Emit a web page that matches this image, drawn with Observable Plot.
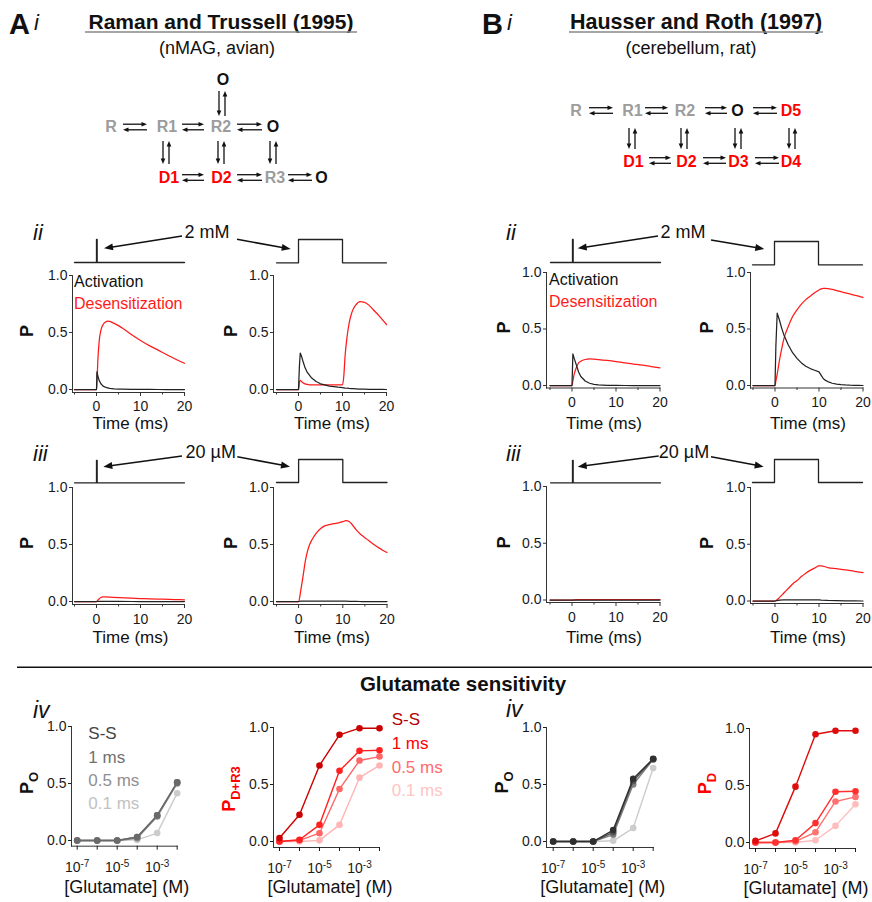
<!DOCTYPE html>
<html>
<head>
<meta charset="utf-8">
<script src="https://cdn.jsdelivr.net/npm/d3@7"></script>
<script src="https://cdn.jsdelivr.net/npm/@observablehq/plot@0.6"></script>
<style>
  body { margin: 0; background: #fff; }
  #fig { position: relative; width: 872px; height: 902px; overflow: hidden; background: #fff;
         font-family: "Liberation Sans", Arial, Helvetica, sans-serif; }
</style>
</head>
<body>
<div id="fig"></div>
<script>
const FONT = '"Liberation Sans", Arial, Helvetica, sans-serif';

// ---------------- DATA: time courses (ms, open / desensitized probability) ----------------
// A ii left : 2 mM brief pulse, Raman & Trussell
const tAiiL   = [-5, 0, 0.1, 0.3, 0.6, 1, 1.5, 2, 2.5, 3, 4, 5, 6, 8, 10, 12, 14, 16, 18, 20];
const actAiiL = [0, 0, 0.155, 0.12, 0.08, 0.05, 0.03, 0.02, 0.015, 0.01, 0.006, 0.004, 0.003, 0.002, 0.001, 0.001, 0, 0, 0, 0];
const desAiiL = [0, 0, 0.05, 0.25, 0.42, 0.52, 0.57, 0.59, 0.60, 0.597, 0.58, 0.56, 0.535, 0.48, 0.43, 0.385, 0.345, 0.305, 0.265, 0.23];
// A ii right : 2 mM 10 ms pulse
const tAiiR   = [-5, 0, 0.2, 0.4, 0.7, 1, 1.5, 2, 3, 4, 5, 6, 7, 8, 9, 10, 10.3, 10.6, 11, 11.5, 12, 12.5, 13, 14, 15, 16, 17, 18, 19, 20];
const actAiiR = [0, 0, 0.2, 0.32, 0.29, 0.25, 0.19, 0.15, 0.10, 0.07, 0.05, 0.04, 0.03, 0.025, 0.02, 0.017, 0.015, 0.013, 0.011, 0.009, 0.008, 0.007, 0.006, 0.004, 0.003, 0.002, 0.002, 0.001, 0.001, 0];
const desAiiR = [0, 0, 0.06, 0.08, 0.07, 0.06, 0.05, 0.045, 0.04, 0.04, 0.04, 0.04, 0.04, 0.04, 0.04, 0.04, 0.12, 0.30, 0.45, 0.58, 0.66, 0.71, 0.74, 0.77, 0.765, 0.74, 0.70, 0.66, 0.615, 0.57];
// B ii left : Hausser & Roth, 2 mM brief pulse
const tBiiL   = [-5, 0, 0.2, 0.5, 1, 1.5, 2, 3, 4, 5, 6, 8, 10, 12, 14, 16, 18, 20];
const actBiiL = [0, 0, 0.28, 0.24, 0.18, 0.12, 0.08, 0.04, 0.02, 0.01, 0.005, 0.002, 0.001, 0, 0, 0, 0, 0];
const desBiiL = [0, 0, 0.04, 0.10, 0.16, 0.20, 0.215, 0.23, 0.235, 0.233, 0.23, 0.222, 0.212, 0.20, 0.19, 0.18, 0.168, 0.157];
// B ii right : 2 mM 10 ms pulse
const tBiiR   = [-5, 0, 0.2, 0.5, 1, 1.5, 2, 3, 4, 5, 6, 7, 8, 9, 10, 10.5, 11, 11.5, 12, 13, 14, 15, 16, 17, 18, 19, 20];
const actBiiR = [0, 0, 0.35, 0.64, 0.58, 0.51, 0.45, 0.36, 0.29, 0.24, 0.20, 0.17, 0.15, 0.135, 0.12, 0.09, 0.06, 0.045, 0.035, 0.02, 0.012, 0.008, 0.005, 0.003, 0.002, 0.001, 0];
const desBiiR = [0, 0, 0.04, 0.10, 0.22, 0.32, 0.41, 0.52, 0.61, 0.67, 0.72, 0.76, 0.79, 0.82, 0.845, 0.855, 0.86, 0.86, 0.857, 0.85, 0.84, 0.83, 0.82, 0.81, 0.80, 0.79, 0.78];
// A iii left : 20 µM brief pulse
const tAiiiL   = [-5, 0, 0.5, 1, 1.5, 2, 3, 5, 8, 10, 12, 15, 18, 20];
const actAiiiL = [0, 0, 0.002, 0.002, 0.002, 0.001, 0.001, 0.001, 0, 0, 0, 0, 0, 0];
const desAiiiL = [0, 0, 0.02, 0.035, 0.04, 0.04, 0.038, 0.034, 0.029, 0.026, 0.023, 0.02, 0.017, 0.015];
// A iii right : 20 µM 10 ms pulse
const tAiiiR   = [-5, 0, 0.5, 1, 1.5, 2, 2.5, 3, 4, 5, 6, 7, 8, 9, 10, 10.7, 11.5, 12, 13, 14, 15, 16, 17, 18, 19, 20];
const actAiiiR = [0, 0, 0.003, 0.004, 0.004, 0.004, 0.004, 0.004, 0.004, 0.004, 0.004, 0.004, 0.004, 0.004, 0.004, 0.003, 0.002, 0.001, 0.001, 0, 0, 0, 0, 0, 0, 0];
const desAiiiR = [0, 0, 0.10, 0.22, 0.35, 0.44, 0.50, 0.54, 0.60, 0.64, 0.665, 0.675, 0.683, 0.69, 0.70, 0.71, 0.70, 0.68, 0.63, 0.59, 0.56, 0.53, 0.50, 0.475, 0.45, 0.43];
// B iii left : 20 µM brief pulse
const tBiiiL   = [-5, 0, 1, 5, 10, 15, 20];
const actBiiiL = [0, 0, 0, 0, 0, 0, 0];
const desBiiiL = [0, 0, 0.004, 0.004, 0.004, 0.004, 0.004];
// B iii right : 20 µM 10 ms pulse
const tBiiiR   = [-5, 0, 1, 2, 3, 4, 5, 6, 7, 8, 9, 10, 10.5, 12, 14, 16, 18, 20];
const actBiiiR = [0, 0, 0.008, 0.01, 0.01, 0.01, 0.01, 0.01, 0.01, 0.01, 0.01, 0.01, 0.008, 0.005, 0.003, 0.002, 0.001, 0];
const desBiiiR = [0, 0, 0.03, 0.07, 0.11, 0.15, 0.18, 0.215, 0.245, 0.27, 0.29, 0.31, 0.31, 0.295, 0.285, 0.275, 0.262, 0.25];

// glutamate application waveforms
const stimBriefT = [-5, 0, 0, 0.15, 0.15, 20];
const stimBriefV = [0, 0, 1, 1, 0, 0];
const stimLongT  = [-5, 0, 0, 10, 10, 20];
const stimLongV  = [0, 0, 1, 1, 0, 0];

// ---------------- DATA: glutamate sensitivity ----------------
const glutamate = [1e-7, 1e-6, 1e-5, 1e-4, 1e-3, 1e-2];
const gluTicks  = [1e-7, 1e-6, 1e-5, 1e-4, 1e-3, 1e-2];
const gluTickLabels = ["10^-7", "", "10^-5", "", "10^-3", ""];
const durationLabels = ["S-S", "1 ms", "0.5 ms", "0.1 ms"];
// A: P_O
const poA_SS = [0, 0, 0, 0.03, 0.22, 0.51];
const poA_1  = [0, 0, 0, 0.03, 0.22, 0.51];
const poA_05 = [0, 0, 0, 0.02, 0.21, 0.50];
const poA_01 = [0, 0, 0, 0.005, 0.065, 0.415];
// A: P_D+R3
const pdA_SS = [0.03, 0.234, 0.667, 0.936, 0.994, 0.994];
const pdA_1  = [0, 0.015, 0.146, 0.62, 0.795, 0.80];
const pdA_05 = [0, 0.01, 0.073, 0.46, 0.71, 0.745];
const pdA_01 = [0, 0, 0.01, 0.146, 0.56, 0.667];
// B: P_O
const poB_SS = [0, 0, 0, 0.10, 0.55, 0.726];
const poB_1  = [0, 0, 0, 0.08, 0.53, 0.722];
const poB_05 = [0, 0, 0, 0.06, 0.50, 0.72];
const poB_01 = [0, 0, 0, 0.006, 0.118, 0.644];
// B: P_D
const pdB_SS = [0.015, 0.08, 0.49, 0.95, 0.98, 0.98];
const pdB_1  = [0, 0, 0.02, 0.17, 0.445, 0.45];
const pdB_05 = [0, 0, 0.01, 0.09, 0.36, 0.40];
const pdB_01 = [0, 0, 0, 0.02, 0.146, 0.336];

// colours (S-S, 1 ms, 0.5 ms, 0.1 ms)
const grayA = ["#6a6a6a", "#777777", "#8a8a8a", "#cccccc"];
const redA  = ["#cc0000", "#ff2020", "#ff6666", "#ffb5b5"];
const grayB = ["#303030", "#555555", "#808080", "#cccccc"];
const redB  = ["#dd0d0d", "#ff3030", "#ff7272", "#ffbcbc"];

// ---------------- helpers ----------------
const fig = document.getElementById("fig");
const zip = (t, v) => t.map((x, i) => ({t: x, v: v[i]}));
function place(el, left, top) {
  el.style.position = "absolute";
  el.style.left = left + "px";
  el.style.top = top + "px";
  d3.select(el).selectAll("g[aria-label*='tick label']")
    .style("font-size", "14px").style("font-family", FONT).style("fill", "#1a1a1a");
  fig.appendChild(el);
}
const baseStyle = {fontFamily: FONT, fontSize: "14px", color: "#1a1a1a", background: "transparent", overflow: "visible"};

function tracePanel(o) {
  const insetLeft = o.x0 - o.axL, insetBottom = o.axB - o.y0;
  const mL = 45, mT = 6, mR = 14, mB = 30;
  const W = mL + (o.x1 - o.axL) + mR, H = mT + (o.axB - o.y1) + mB;
  const svg = Plot.plot({
    width: W, height: H, marginLeft: mL, marginTop: mT, marginRight: mR, marginBottom: mB,
    x: {type: "linear", domain: [-5, 20], insetLeft, insetRight: 0},
    y: {domain: [0, 1], insetBottom, insetTop: 0},
    style: baseStyle,
    marks: [
      Plot.frame({anchor: "left", stroke: "#333", strokeWidth: 1}),
      Plot.frame({anchor: "bottom", stroke: "#333", strokeWidth: 1}),
      Plot.axisY({ticks: [0, 0.5, 1], tickFormat: d => d.toFixed(1), tickSize: 3, tickPadding: 2, label: null, stroke: "#333"}),
      Plot.axisX({ticks: [0, 10, 20], tickFormat: d => String(d), tickSize: 4, tickPadding: o.pad ?? 5, label: null, stroke: "#333"}),
      Plot.axisX({ticks: [-5, 5, 15], tickFormat: () => "", tickSize: 2.5, label: null, stroke: "#333"}),
      Plot.line(zip(o.t, o.des), {x: "t", y: "v", stroke: "#ff1a1a", strokeWidth: 1.25, curve: "monotone-x"}),
      Plot.line(zip(o.t, o.act), {x: "t", y: "v", stroke: "#222", strokeWidth: 1.25, curve: "linear"})
    ]
  });
  place(svg, o.axL - mL, o.y1 - mT);
}

function stimPanel(o) {
  const W = o.x1 - o.x0 + 4, H = o.yb - o.yt + 4;
  const svg = Plot.plot({
    width: W, height: H, margin: 2,
    x: {domain: [-5, 20], axis: null},
    y: {domain: [0, 1], axis: null},
    style: baseStyle,
    marks: [Plot.line(zip(o.t, o.v), {x: "t", y: "v", stroke: "#222", strokeWidth: 1.3})]
  });
  place(svg, o.x0 - 2, o.yt - 2);
}

function gluLabel(d) {
  const k = gluTicks.findIndex(t => Math.abs(Math.log10(t) - Math.log10(d)) < 1e-6);
  return k >= 0 ? gluTickLabels[k] : "";
}

function dosePanel(o) {
  const insetLeft = o.x0 - o.axL, insetBottom = o.axB - o.y0;
  const mL = 45, mT = 8, mR = 10, mB = 34;
  const W = mL + (o.x1 - o.axL) + mR, H = mT + (o.axB - o.y1) + mB;
  const series = [];
  // draw faintest first
  for (let k = o.ys.length - 1; k >= 0; k--) {
    const d = glutamate.map((c, i) => ({c, v: o.ys[k][i]}));
    series.push(Plot.line(d, {x: "c", y: "v", stroke: o.colors[k], strokeWidth: 1.4}));
    series.push(Plot.dot(d, {x: "c", y: "v", fill: o.colors[k], r: 3.3, stroke: "none"}));
  }
  const svg = Plot.plot({
    width: W, height: H, marginLeft: mL, marginTop: mT, marginRight: mR, marginBottom: mB,
    x: {type: "log", domain: [1e-7, 1e-2], insetLeft, insetRight: 0},
    y: {domain: [0, 1], insetBottom, insetTop: 0},
    style: baseStyle,
    marks: [
      Plot.frame({anchor: "left", stroke: "#333"}),
      Plot.frame({anchor: "bottom", stroke: "#333"}),
      Plot.axisY({ticks: [0, 0.5, 1], tickFormat: d => d.toFixed(1), tickSize: 3, tickPadding: 2, label: null}),
      Plot.axisX({ticks: gluTicks, tickFormat: gluLabel, tickSize: 4, tickPadding: 12, label: null}),
      ...series
    ]
  });
  // superscript exponents in tick labels
  d3.select(svg).selectAll("text").each(function() {
    const s = this.textContent;
    if (s.includes("^")) {
      const [b, e] = s.split("^");
      const t = d3.select(this);
      t.text(null);
      t.append("tspan").text(b);
      t.append("tspan").attr("dy", "-0.55em").style("font-size", "10px").text(e);
    }
  });
  place(svg, o.axL - mL, o.y1 - mT);
}

// ---------------- time-course panels ----------------
tracePanel({axL: 72,    x0: 74,    x1: 184,   y1: 275, y0: 389,   axB: 392,   t: tAiiL, act: actAiiL, des: desAiiL});
tracePanel({axL: 273,   x0: 276,   x1: 386,   y1: 275, y0: 389,   axB: 392,   t: tAiiR, act: actAiiR, des: desAiiR});
tracePanel({axL: 546,   x0: 549.5, x1: 659.5, y1: 272, y0: 385,   axB: 387.5, t: tBiiL, act: actBiiL, des: desBiiL});
tracePanel({axL: 749.5, x0: 752,   x1: 862,   y1: 272, y0: 385,   axB: 387.5, t: tBiiR, act: actBiiR, des: desBiiR});
tracePanel({axL: 72,    x0: 74,    x1: 184,   y1: 487, y0: 601,   axB: 604,   t: tAiiiL, act: actAiiiL, des: desAiiiL, pad: 6});
tracePanel({axL: 273,   x0: 276,   x1: 386.5, y1: 487, y0: 601,   axB: 604,   t: tAiiiR, act: actAiiiR, des: desAiiiR, pad: 6});
tracePanel({axL: 546,   x0: 549.5, x1: 659.5, y1: 486, y0: 599.5, axB: 602,   t: tBiiiL, act: actBiiiL, des: desBiiiL, pad: 6});
tracePanel({axL: 749.5, x0: 752,   x1: 862,   y1: 487, y0: 600.5, axB: 603,   t: tBiiiR, act: actBiiiR, des: desBiiiR, pad: 6});

// stimulus waveforms
stimPanel({x0: 74,    x1: 184,   yb: 262.3, yt: 239.3, t: stimBriefT, v: stimBriefV});
stimPanel({x0: 276,   x1: 386,   yb: 262.3, yt: 239,   t: stimLongT,  v: stimLongV});
stimPanel({x0: 549.5, x1: 659.5, yb: 262.3, yt: 239.3, t: stimBriefT, v: stimBriefV});
stimPanel({x0: 752,   x1: 862,   yb: 264,   yt: 240.7, t: stimLongT,  v: stimLongV});
stimPanel({x0: 74,    x1: 184,   yb: 482.3, yt: 460,   t: stimBriefT, v: stimBriefV});
stimPanel({x0: 276,   x1: 386.5, yb: 482.3, yt: 459.3, t: stimLongT,  v: stimLongV});
stimPanel({x0: 549.5, x1: 659.5, yb: 482.3, yt: 460,   t: stimBriefT, v: stimBriefV});
stimPanel({x0: 752,   x1: 862,   yb: 482.3, yt: 459.3, t: stimLongT,  v: stimLongV});

// ---------------- glutamate sensitivity panels ----------------
dosePanel({axL: 71,    x0: 76.7,  x1: 176.7, y1: 726,   y0: 840,   axB: 845.7, ys: [poA_SS, poA_1, poA_05, poA_01], colors: grayA});
dosePanel({axL: 273.3, x0: 279.3, x1: 379.3, y1: 726.7, y0: 840.7, axB: 846.7, ys: [pdA_SS, pdA_1, pdA_05, pdA_01], colors: redA});
dosePanel({axL: 546,   x0: 552.7, x1: 652.7, y1: 726.7, y0: 840.7, axB: 846.7, ys: [poB_SS, poB_1, poB_05, poB_01], colors: grayB});
dosePanel({axL: 749.3, x0: 755.3, x1: 855.3, y1: 728.3, y0: 842.3, axB: 848.3, ys: [pdB_SS, pdB_1, pdB_05, pdB_01], colors: redB});

// ---------------- annotation overlay ----------------
const ov = d3.select(fig).append("svg")
  .attr("width", 872).attr("height", 902)
  .style("position", "absolute").style("left", "0px").style("top", "0px")
  .style("pointer-events", "none")
  .attr("font-family", FONT);

function txt(x, y, s, o = {}) {
  return ov.append("text").attr("x", x).attr("y", y)
    .attr("font-size", o.size || 16).attr("font-weight", o.weight || "normal")
    .attr("font-style", o.style || "normal").attr("fill", o.fill || "#111")
    .attr("text-anchor", o.anchor || "start").text(s);
}
function head(x, y, ang, len, hw) {
  const c = Math.cos(ang), s = Math.sin(ang);
  const bx = x - len * c, by = y - len * s;
  ov.append("path").attr("d", `M${x},${y}L${bx - hw * s},${by + hw * c}L${bx + hw * s},${by - hw * c}Z`).attr("fill", "#111");
}
function arrow(x1, y1, x2, y2, w = 1.5, len = 9, hw = 3.5) {
  const ang = Math.atan2(y2 - y1, x2 - x1);
  ov.append("line").attr("x1", x1).attr("y1", y1)
    .attr("x2", x2 - len * 0.8 * Math.cos(ang)).attr("y2", y2 - len * 0.8 * Math.sin(ang))
    .attr("stroke", "#111").attr("stroke-width", w);
  head(x2, y2, ang, len, hw);
}
function eqH(x1, x2, yc) { arrow(x1, yc - 2.8, x2, yc - 2.8, 1.3, 5.5, 2.3); arrow(x2, yc + 2.8, x1, yc + 2.8, 1.3, 5.5, 2.3); }
function eqV(xc, y1, y2) { arrow(xc - 3, y1, xc - 3, y2, 1.3, 5.5, 2.3); arrow(xc + 3, y2, xc + 3, y1, 1.3, 5.5, 2.3); }

const GRAY = "#9c9c9c", RED = "#ff0000", BLK = "#111";
const S = (x, y, s, fill) => txt(x, y, s, {size: 16, weight: "bold", fill, anchor: "middle"});

// panel letters and titles
txt(9, 34, "A", {size: 29, weight: "bold"});
txt(34, 30, "i", {size: 22, style: "italic"});
txt(482, 34, "B", {size: 29, weight: "bold"});
txt(507, 30, "i", {size: 22, style: "italic"});
txt(221, 29, "Raman and Trussell (1995)", {size: 21, weight: "bold", anchor: "middle"});
ov.append("line").attr("x1", 85).attr("x2", 357).attr("y1", 32).attr("y2", 32).attr("stroke", "#888").attr("stroke-width", 1.4);
txt(217, 54, "(nMAG, avian)", {size: 18, anchor: "middle"});
txt(696, 29, "Hausser and Roth (1997)", {size: 21.5, weight: "bold", anchor: "middle"});
ov.append("line").attr("x1", 569).attr("x2", 823).attr("y1", 32).attr("y2", 32).attr("stroke", "#888").attr("stroke-width", 1.4);
txt(691, 54, "(cerebellum, rat)", {size: 18, anchor: "middle"});

// scheme A
S(223, 85, "O", BLK);
eqV(222, 91, 116);
S(111, 132, "R", GRAY); S(167, 132, "R1", GRAY); S(221, 132, "R2", GRAY); S(273, 132, "O", BLK);
eqH(123, 147, 127); eqH(182, 204, 127); eqH(237, 262, 127);
eqV(166, 141, 164); eqV(221, 141, 164); eqV(273, 141, 164);
S(169, 183, "D1", RED); S(221.5, 183, "D2", RED); S(275, 183, "R3", GRAY); S(321.5, 183, "O", BLK);
eqH(182, 204, 177.5); eqH(237, 262, 177.5); eqH(288, 312, 177.5);

// scheme B
S(576, 116, "R", GRAY); S(632.5, 116, "R1", GRAY); S(685, 116, "R2", GRAY); S(737.5, 116, "O", BLK); S(791, 116, "D5", RED);
eqH(589, 613, 110.5); eqH(645, 668, 110.5); eqH(705, 727, 110.5); eqH(753, 777, 110.5);
eqV(632, 128, 149); eqV(684, 128, 149); eqV(738, 128, 149); eqV(792, 128, 149);
S(633.5, 167, "D1", RED); S(686.5, 167, "D2", RED); S(738.5, 167, "D3", RED); S(791, 167, "D4", RED);
eqH(649, 671, 160.5); eqH(703, 726, 160.5); eqH(755, 779, 160.5);

// sub-panel numerals
txt(33, 240, "ii", {size: 22, style: "italic"});
txt(506, 240, "ii", {size: 22, style: "italic"});
txt(33, 460.5, "iii", {size: 22, style: "italic"});
txt(506, 460.5, "iii", {size: 22, style: "italic"});
txt(33, 718, "iv", {size: 23, style: "italic"});
txt(506, 717, "iv", {size: 23, style: "italic"});

// concentration annotations with arrows
txt(207, 238, "2 mM", {size: 18, anchor: "middle"});
arrow(182, 236, 104, 248.3); arrow(237, 239.3, 290.7, 249);
txt(683, 238, "2 mM", {size: 18, anchor: "middle"});
arrow(658, 236, 577.7, 248.3); arrow(711, 240, 764.3, 249);
txt(210.7, 457.7, "20 µM", {size: 18, anchor: "middle"});
arrow(182, 456, 103.3, 466.7); arrow(237.3, 456.7, 290, 466.7);
txt(684, 457.7, "20 µM", {size: 18, anchor: "middle"});
arrow(658.7, 456, 577.7, 466.7); arrow(711, 456.7, 763.7, 466.7);

// legends in ii
txt(74, 287, "Activation", {size: 16, fill: "#111"});
txt(74, 309, "Desensitization", {size: 16, fill: "#ff1a1a"});
txt(549, 285, "Activation", {size: 16, fill: "#111"});
txt(549, 307, "Desensitization", {size: 16, fill: "#ff1a1a"});

// y labels P
function yLab(x, y, main, sub, fill) {
  const t = ov.append("text").attr("transform", `translate(${x},${y}) rotate(-90)`)
    .attr("text-anchor", "middle").attr("fill", fill).attr("font-weight", "bold");
  t.append("tspan").attr("font-size", 18).text(main);
  if (sub) t.append("tspan").attr("font-size", 13).attr("dy", 5).text(sub);
}
[[33, 331], [237, 331], [510, 327.5], [713, 327.5], [33, 543], [237, 543], [510, 542.5], [713, 543]]
  .forEach(([x, y]) => yLab(x, y, "P", null, "#111"));
yLab(33, 783, "P", "O", "#111");
yLab(235, 789, "P", "D+R3", RED);
yLab(508, 782.5, "P", "O", "#111");
yLab(711, 783.5, "P", "D", RED);

// x labels
[[130.5, 429.3], [332, 429.3], [604, 429.3], [808, 429.3], [130.5, 643], [332, 643], [604, 643], [808, 643]]
  .forEach(([x, y]) => txt(x, y, "Time (ms)", {size: 17, anchor: "middle"}));
[[126.7, 893.3], [330, 893.3], [602.7, 893.3], [806, 894]]
  .forEach(([x, y]) => txt(x, y, "[Glutamate] (M)", {size: 18, anchor: "middle"}));

// divider and section title
ov.append("line").attr("x1", 17).attr("x2", 872).attr("y1", 667.3).attr("y2", 667.3).attr("stroke", "#111").attr("stroke-width", 1.6);
txt(463, 691, "Glutamate sensitivity", {size: 20.5, weight: "bold", anchor: "middle"});

// legends in iv
const legA = ["#444444", "#707070", "#909090", "#c2c2c2"];
const legR = ["#b30000", "#ff0000", "#ff6b6b", "#ffc4c4"];
[739.3, 763, 786.3, 809.3].forEach((y, i) => txt(88.3, y, durationLabels[i], {size: 17, fill: legA[i]}));
[725, 749.3, 772.7, 796].forEach((y, i) => txt(391.7, y, durationLabels[i], {size: 17, fill: legR[i]}));
</script>
</body>
</html>
